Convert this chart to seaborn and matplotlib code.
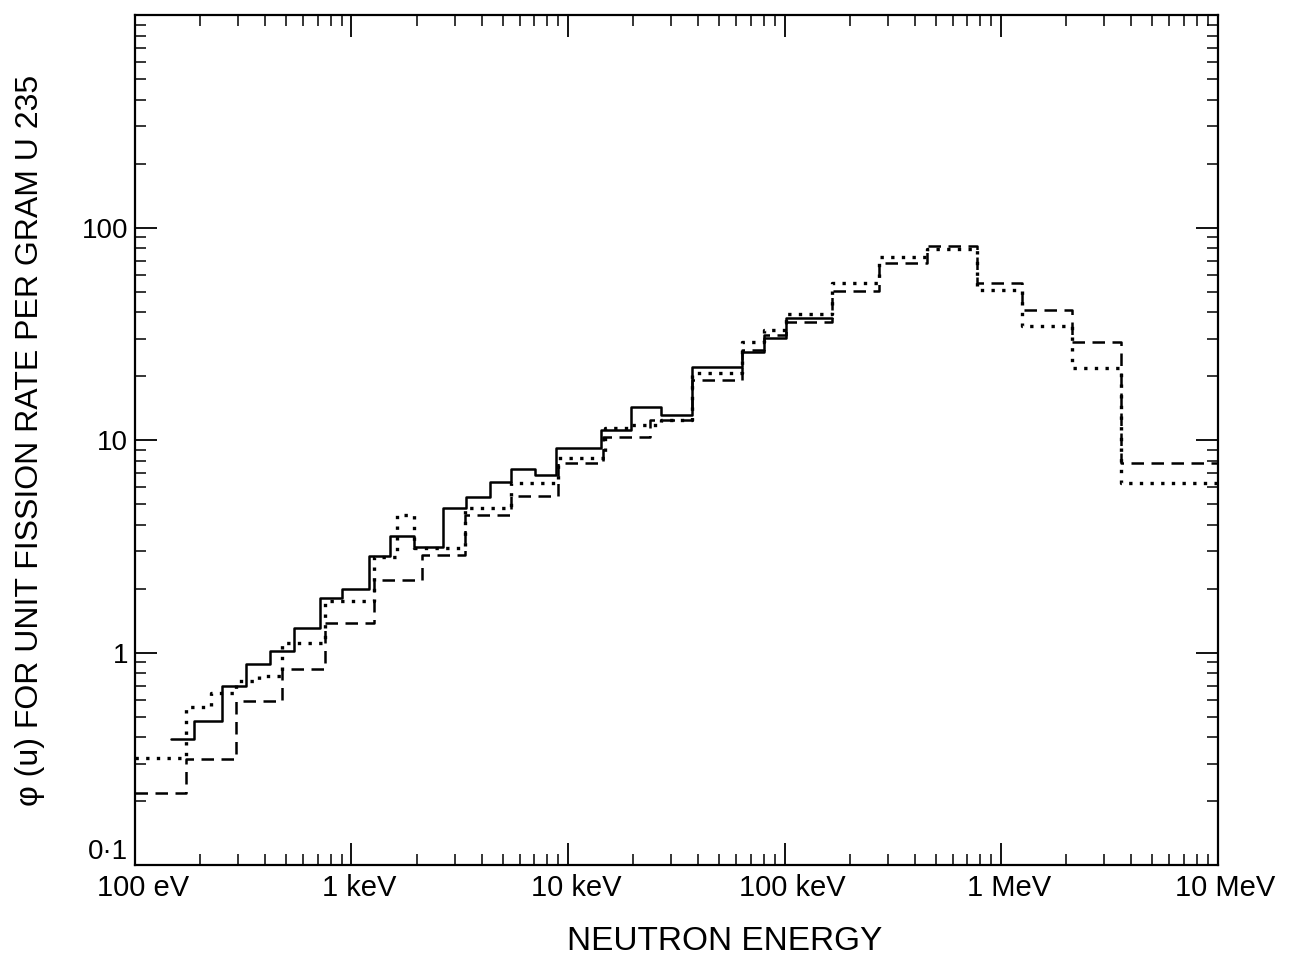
import matplotlib
matplotlib.use("Agg")
import matplotlib.pyplot as plt
import matplotlib.ticker as mticker
import matplotlib.transforms as mtransforms
import seaborn as sns
import pandas as pd

# ---- data (energy in eV, phi(u) per unit fission rate per gram U-235) ----
solid_edges = [147, 188, 251, 327, 419, 541, 714, 903, 1205, 1509, 1950, 2658,
               3363, 4346, 5439, 7029, 8799, 14230, 19600, 27020, 37230, 63510,
               80340, 101600, 166200]
solid_vals = [0.393, 0.478, 0.699, 0.887, 1.02, 1.31, 1.80, 2.00, 2.84, 3.56,
              3.13, 4.78, 5.38, 6.34, 7.30, 6.84, 9.17, 11.15, 14.3, 13.1, 22.1,
              26.0, 30.3, 37.6]

dashed_edges = [100, 172, 294, 476, 753, 1272, 2124, 3327, 5439, 8985, 14538,
                24020, 37230, 63510, 80340, 101600, 166200, 274500, 453500,
                773700, 1.252e6, 2.136e6, 3.566e6, 1.0e7]
dashed_vals = [0.219, 0.316, 0.594, 0.840, 1.385, 2.21, 2.87, 4.43, 5.44, 7.79,
               10.33, 12.4, 19.2, 26.6, 31.3, 36.0, 50.5, 68.4, 82.3, 55.0, 41.0,
               29.0, 7.79]

dotted_edges = [100, 172, 225, 294, 372, 476, 753, 1272, 1626, 1950, 3327, 5439,
                8985, 14850, 19400, 27020, 37230, 63510, 80340, 101600, 166200,
                274500, 453500, 773700, 1.252e6, 2.136e6, 3.566e6, 1.0e7]
dotted_vals = [0.320, 0.556, 0.648, 0.738, 0.779, 1.115, 1.76, 2.81, 4.43, 3.10,
               4.78, 6.27, 8.23, 11.4, 11.8, 12.4, 20.7, 29.0, 33.0, 39.3, 55.0,
               73.0, 79.6, 51.0, 34.5, 21.9, 6.27]

x_tick_vals = [1e2, 1e3, 1e4, 1e5, 1e6, 1e7]
x_tick_labels = ["100 eV", "1 keV", "10 keV", "100 keV", "1 MeV", "10 MeV"]
y_tick_vals = [0.1, 1, 10, 100, 1000]
y_tick_labels = ["0·1", "1", "10", "100", ""]


def step_frame(edges, vals):
    return pd.DataFrame({"E": list(edges), "phi": list(vals) + [vals[-1]]})


sns.set_style("ticks")
plt.rcParams["font.family"] = ["Liberation Sans", "DejaVu Sans"]
plt.rcParams["text.color"] = "black"
plt.rcParams["axes.labelcolor"] = "black"
plt.rcParams["xtick.color"] = "black"
plt.rcParams["ytick.color"] = "black"

fig = plt.figure(figsize=(12.98, 9.56), dpi=100)
ax = fig.add_axes([0.104, 0.095, 0.834, 0.889])

common = dict(x="E", y="phi", drawstyle="steps-post", estimator=None,
              sort=False, color="black", ax=ax, legend=False)
sns.lineplot(data=step_frame(solid_edges, solid_vals), linestyle="-",
             linewidth=1.8, **common)
sns.lineplot(data=step_frame(dashed_edges, dashed_vals), linestyle=(0, (5, 3)),
             linewidth=1.8, **common)
sns.lineplot(data=step_frame(dotted_edges, dotted_vals), linestyle=(0, (1, 2.2)),
             linewidth=2.4, **common)

ax.set_xscale("log")
ax.set_yscale("log")
ax.set_xlim(100, 1e7)
ax.set_ylim(0.1, 1000)

ax.xaxis.set_major_locator(mticker.FixedLocator(x_tick_vals))
ax.xaxis.set_major_formatter(mticker.FixedFormatter(x_tick_labels))
ax.yaxis.set_major_locator(mticker.FixedLocator(y_tick_vals))
ax.yaxis.set_major_formatter(mticker.FixedFormatter(y_tick_labels))
ax.xaxis.set_minor_locator(mticker.LogLocator(base=10, subs=range(2, 10), numticks=50))
ax.yaxis.set_minor_locator(mticker.LogLocator(base=10, subs=range(2, 10), numticks=50))
ax.xaxis.set_minor_formatter(mticker.NullFormatter())
ax.yaxis.set_minor_formatter(mticker.NullFormatter())

ax.tick_params(which="both", direction="in", top=True, right=True,
               color="black", labelcolor="black")
ax.tick_params(which="major", length=16, width=1.3, pad=6)
ax.tick_params(axis="x", which="major", labelsize=21)
ax.tick_params(axis="y", which="major", labelsize=20, pad=5)
ax.tick_params(which="minor", length=8, width=1.1)
for s in ax.spines.values():
    s.set_linewidth(1.6)
    s.set_color("black")

# x tick labels sit slightly right of their ticks in the original
offset = mtransforms.ScaledTranslation(8 / 100, 0, fig.dpi_scale_trans)
for lab in ax.get_xticklabels():
    lab.set_transform(lab.get_transform() + offset)
# lift the "0·1" label so it clears "100 eV"
ax.get_yticklabels()[0].set_va("bottom")

ax.set_xlabel("NEUTRON ENERGY", fontsize=24, color="black")
ax.xaxis.set_label_coords(0.545, -0.072)
ax.set_ylabel("φ (u) FOR UNIT FISSION RATE PER GRAM U 235", fontsize=23,
              color="black")
ax.yaxis.set_label_coords(-0.083, 0.5)

fig.savefig("out.png", dpi=100, facecolor="white")
